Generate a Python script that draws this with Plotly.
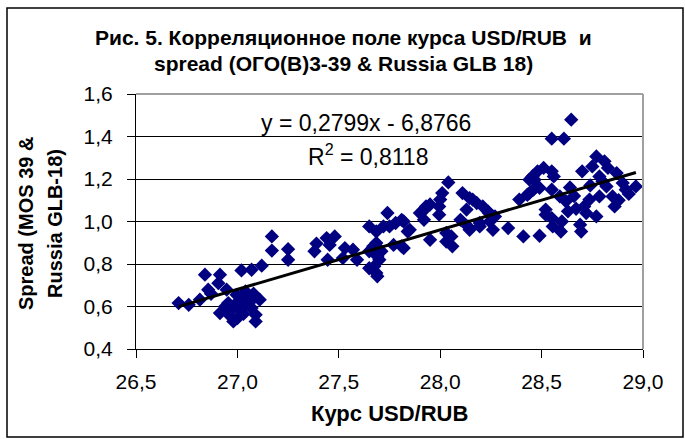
import plotly.graph_objects as go

usd_rub = [
    26.71, 26.76, 26.815, 26.84, 26.856, 26.87, 26.914, 26.906, 26.947, 26.914,
    26.98, 26.97, 27.02, 27.05, 27.09, 27.09, 27.11, 27.01, 26.955, 26.996,
    27.04, 27.07, 26.94, 26.96, 27.00, 27.03, 27.06, 27.03, 27.08, 27.00,
    27.02, 27.07, 27.12, 27.17, 27.17, 27.25, 27.25, 27.39, 27.38, 27.44,
    27.48, 27.455, 27.445, 27.53, 27.57, 27.52, 27.59, 27.65, 27.685, 27.74,
    27.72, 27.78, 27.82, 27.685, 27.71, 27.69, 27.77, 27.82, 27.65, 27.69,
    27.675, 27.65, 27.84, 27.81, 27.95, 27.92, 27.915, 27.95, 27.995, 27.995,
    28.01, 28.04, 28.03, 28.055, 28.06, 28.10, 28.11, 28.145, 28.18, 28.21,
    28.235, 28.145, 28.195, 28.245, 28.26, 28.27, 28.335, 28.41, 28.39, 28.43,
    28.44, 28.49, 28.646, 28.55, 28.61, 28.465, 28.48, 28.51, 28.55, 28.56,
    28.44, 28.49, 28.55, 28.59, 28.62, 28.52, 28.52, 28.55, 28.63, 28.555,
    28.595, 28.69, 28.71, 28.72, 28.77, 28.736, 28.70, 28.75, 28.77, 28.81,
    28.827, 28.785, 28.87, 28.82, 28.85, 28.86, 28.785, 28.915, 28.965, 28.90,
    28.695, 27.93, 28.00, 28.16, 28.24, 28.137, 27.67, 27.70, 27.685, 27.75,
    27.81, 27.85, 27.90, 28.03, 28.13, 28.195, 28.455, 28.46, 28.88, 28.93,
    28.80, 28.74, 28.66, 28.67, 28.64, 28.60,
]
spread = [
    0.616, 0.608, 0.632, 0.750, 0.679, 0.660, 0.750, 0.710, 0.679, 0.569,
    0.530, 0.585, 0.632, 0.648, 0.561, 0.530, 0.632, 0.585, 0.616, 0.655,
    0.671, 0.593, 0.600, 0.560, 0.545, 0.600, 0.620, 0.565, 0.660, 0.620,
    0.770, 0.773, 0.792, 0.930, 0.863, 0.870, 0.820, 0.896, 0.860, 0.922,
    0.930, 0.890, 0.820, 0.875, 0.867, 0.828, 0.820, 0.977, 0.953, 1.040,
    0.977, 0.993, 1.000, 0.899, 0.860, 0.836, 0.890, 0.875, 0.780, 0.742,
    0.789, 0.860, 0.953, 0.883, 0.914, 1.008, 1.048, 1.080, 1.071, 1.032,
    1.134, 1.184, 0.906, 0.930, 0.883, 1.008, 1.134, 1.110, 1.087, 1.071,
    1.048, 0.961, 0.993, 1.000, 0.961, 1.024, 0.969, 0.930, 1.103, 1.126,
    1.197, 0.933, 1.479, 1.390, 1.390, 1.197, 1.236, 1.252, 1.236, 1.212,
    1.134, 1.158, 1.150, 1.118, 1.095, 1.056, 1.032, 1.016, 1.048, 0.977,
    0.953, 0.985, 1.071, 1.040, 1.024, 1.103, 1.236, 1.259, 1.306, 1.283,
    1.252, 1.212, 1.228, 1.165, 1.118, 1.071, 1.118, 1.150, 1.165, 1.181,
    0.953, 1.071, 1.103, 1.103, 1.040, 0.977, 0.883, 0.820, 0.758, 0.977,
    1.008, 0.961, 1.040, 0.946, 1.056, 0.977, 1.212, 1.150, 1.100, 1.130,
    1.190, 1.170, 1.120, 1.060, 1.160, 1.000,
]

trend_slope = 0.2799
trend_intercept = -6.8766
trend_x = [min(usd_rub), max(usd_rub)]
trend_y = [trend_slope * v + trend_intercept for v in trend_x]

title_line1 = "Рис. 5. Корреляционное поле курса USD/RUB  и"
title_line2 = "spread (ОГО(В)3-39 & Russia GLB 18)"
x_title = "Курс USD/RUB"
y_title_line1 = "Spread (MOS 39 &"
y_title_line2 = "Russia GLB-18)"
eq_text = "y = 0,2799x - 6,8766"
r2_text = "R<sup>2</sup> = 0,8118"

# plot area in pixels
W, H = 685, 439
L, R, T, B = 136, 643, 94, 349

def px(x):
    return (x - L) / (R - L)

def py(y):
    return (B - y) / (B - T)

fig = go.Figure()
fig.add_trace(go.Scatter(
    x=usd_rub, y=spread, mode="markers",
    marker=dict(symbol="diamond", size=11, color="#000080", line=dict(width=0)),
    showlegend=False, hoverinfo="x+y",
))
fig.add_trace(go.Scatter(
    x=trend_x, y=trend_y, mode="lines",
    line=dict(color="black", width=3), showlegend=False,
))

FONT = "Liberation Sans, Arial"

def ann(text, x, y, size, bold=False, angle=0):
    return dict(text=text, xref="paper", yref="paper", x=px(x), y=py(y),
                showarrow=False, xanchor="center", yanchor="middle", textangle=angle,
                font=dict(family=FONT, size=size, color="black",
                          weight="bold" if bold else "normal"))

fig.update_layout(
    width=W, height=H,
    margin=dict(l=L, r=W - R, t=T, b=H - B, autoexpand=False),
    paper_bgcolor="white", plot_bgcolor="white",
    separators=", ",
    font=dict(family=FONT, color="black", size=16),
    xaxis=dict(
        range=[26.5, 29.0], dtick=0.5, tick0=26.5, tickformat=".1f",
        showgrid=False, zeroline=False,
        showline=True, linecolor="black", linewidth=1,
        ticks="outside", ticklen=8, tickcolor="black",
        tickfont=dict(size=21), ticklabelstandoff=6,
    ),
    yaxis=dict(
        range=[0.4, 1.6], dtick=0.2, tick0=0.4, tickformat=".1f",
        showgrid=True, gridcolor="black", gridwidth=1, zeroline=False,
        showline=True, linecolor="black", linewidth=1,
        ticks="outside", ticklen=8, tickcolor="black",
        tickfont=dict(size=21), ticklabelstandoff=10,
    ),
    shapes=[
        dict(type="line", xref="paper", yref="paper", x0=0, x1=1, y0=1, y1=1,
             line=dict(color="#a0a0a0", width=2)),
        dict(type="line", xref="paper", yref="paper", x0=1, x1=1, y0=0, y1=1,
             line=dict(color="#a0a0a0", width=2)),
        dict(type="rect", xref="paper", yref="paper",
             x0=px(7), x1=px(683), y0=py(437), y1=py(8),
             line=dict(color="black", width=1.5), fillcolor="rgba(0,0,0,0)", layer="below"),
    ],
    annotations=[
        ann(title_line1, 343, 38, 21, bold=True),
        ann(title_line2, 343, 64, 21, bold=True),
        ann(x_title, 389, 413, 22, bold=True),
        ann(y_title_line1, 26, 224, 20, bold=True, angle=-90),
        ann(y_title_line2, 55, 224, 20, bold=True, angle=-90),
        ann(eq_text, 366, 123, 23),
        ann(r2_text, 368, 155, 23),
    ],
)

fig.write_html("out.html", config={"displayModeBar": False},
               post_script="document.body.style.margin='0';")
